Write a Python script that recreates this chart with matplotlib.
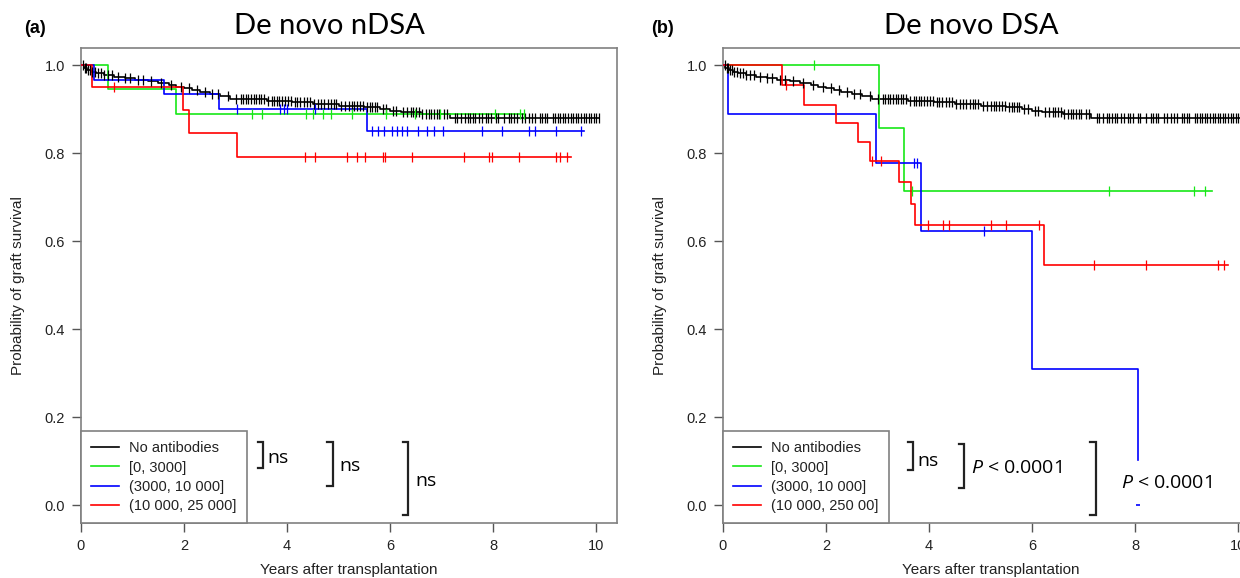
import numpy as np
import matplotlib.pyplot as plt
from matplotlib.lines import Line2D

plt.rcParams['mathtext.fontset'] = 'custom'
plt.rcParams['mathtext.it'] = 'Open Sans:italic'
plt.rcParams['mathtext.rm'] = 'Open Sans'

# ---- data (Kaplan-Meier: event times, survival after event, last time, censor times)
none_times = [0.05, 0.12, 0.2, 0.3, 0.45, 0.65, 0.85, 1.05, 1.3, 1.5, 1.7, 1.85, 2.0, 2.15,
              2.3, 2.5, 2.7, 2.9, 3.6, 4.1, 4.5, 5.0, 5.5, 5.8, 6.0, 6.2, 6.6, 7.15]
none_surv = [0.995, 0.99, 0.986, 0.982, 0.978, 0.974, 0.971, 0.968, 0.964, 0.96, 0.956, 0.952,
             0.948, 0.944, 0.94, 0.935, 0.93, 0.924, 0.92, 0.916, 0.912, 0.908, 0.905, 0.901,
             0.897, 0.894, 0.89, 0.881]
none_end = 10.05
none_cens = [0.04, 0.08, 0.1, 0.14, 0.18, 0.22, 0.28, 0.33, 0.38, 0.45, 0.52, 0.6, 0.72, 0.85,
             0.95, 1.1, 1.2, 1.35, 1.55, 1.75, 1.95, 2.1, 2.25, 2.4, 2.55, 2.65, 2.85, 3.0, 3.1,
             3.15, 3.2, 3.25, 3.3, 3.35, 3.4, 3.45, 3.5, 3.55, 3.62, 3.7, 3.75, 3.8, 3.85, 3.9,
             3.95, 4.02, 4.08, 4.15, 4.2, 4.25, 4.32, 4.38, 4.45, 4.52, 4.6, 4.66, 4.72, 4.8,
             4.85, 4.9, 4.95, 5.05, 5.12, 5.2, 5.25, 5.3, 5.35, 5.42, 5.48, 5.55, 5.6, 5.65,
             5.7, 5.75, 5.85, 5.92, 6.05, 6.12, 6.25, 6.32, 6.4, 6.45, 6.5, 6.55, 6.62, 6.7,
             6.75, 6.8, 6.85, 6.9, 6.95, 7.05, 7.1, 7.25, 7.3, 7.38, 7.45, 7.5, 7.55, 7.6, 7.65,
             7.72, 7.78, 7.85, 7.9, 7.95, 8.05, 8.1, 8.2, 8.3, 8.35, 8.4, 8.45, 8.55, 8.62, 8.7,
             8.75, 8.8, 8.9, 8.95, 9.0, 9.05, 9.15, 9.2, 9.25, 9.3, 9.35, 9.4, 9.45, 9.5, 9.55,
             9.6, 9.65, 9.7, 9.75, 9.8, 9.85, 9.9, 9.95, 10.0, 10.05]

# panel (a) de novo nDSA
green_a_times = [0.52, 1.84]
green_a_surv = [0.947, 0.889]
green_a_end = 8.6
green_a_cens = [3.31, 3.51, 4.36, 4.50, 4.69, 4.86, 5.25, 5.91, 6.49, 6.96, 8.04, 8.51, 8.59]

blue_a_times = [0.25, 1.61, 2.68, 5.54]
blue_a_surv = [0.968, 0.934, 0.9, 0.85]
blue_a_end = 9.76
blue_a_cens = [3.03, 3.86, 3.93, 4.0, 4.55, 5.64, 5.76, 5.87, 6.03, 6.14, 6.22, 6.32, 6.53,
               6.71, 6.84, 7.03, 7.79, 8.16, 8.70, 8.80, 9.21, 9.71]

red_a_times = [0.21, 1.98, 2.09, 3.03]
red_a_surv = [0.951, 0.898, 0.847, 0.792]
red_a_end = 9.5
red_a_cens = [0.64, 4.34, 4.55, 5.16, 5.35, 5.52, 5.85, 5.89, 6.43, 7.44, 7.91, 7.98, 8.49,
              9.21, 9.30, 9.42]

# panel (b) de novo DSA
green_b_times = [3.02, 3.52]
green_b_surv = [0.857, 0.714]
green_b_end = 9.48
green_b_cens = [1.76, 3.67, 7.5, 9.13, 9.36]

blue_b_times = [0.1, 2.97, 3.85, 6.0, 8.05]
blue_b_surv = [0.889, 0.778, 0.623, 0.311, 0.104]
blue_b_end = 8.05
blue_b_cens = [3.71, 3.77, 5.07]
blue_b_zero_time = 8.06

red_b_times = [1.14, 1.58, 2.19, 2.63, 2.86, 3.42, 3.64, 3.73, 6.23]
red_b_surv = [0.955, 0.911, 0.870, 0.826, 0.782, 0.734, 0.686, 0.637, 0.546]
red_b_end = 9.8
red_b_cens = [1.22, 2.90, 3.07, 3.97, 4.27, 4.39, 5.20, 5.49, 6.13, 7.2, 8.2, 9.61, 9.72]

labels_a = ['No antibodies', '[0, 3000]', '(3000, 10 000]', '(10 000, 25 000]']
labels_b = ['No antibodies', '[0, 3000]', '(3000, 10 000]', '(10 000, 250 00]']
colors = ['black', '#16e816', '#0000ff', '#ff0000']

# comparison brackets: x, y top, y bottom, label x, label y, text
brackets_a = [(3.53, 0.143, 0.084, 3.62, 0.107, 'ns'),
              (4.88, 0.143, 0.043, 5.02, 0.089, 'ns'),
              (6.34, 0.143, -0.023, 6.49, 0.055, 'ns')]
brackets_b = [(3.69, 0.143, 0.080, 3.77, 0.102, 'ns'),
              (4.68, 0.139, 0.039, 4.82, 0.086, 'P'),
              (7.23, 0.143, -0.023, 7.72, 0.052, 'P')]

TXT = ['Lato', 'DejaVu Sans']
NOTE = ['Open Sans', 'DejaVu Sans']
AX = ['Liberation Sans', 'DejaVu Sans']


def km(ax, times, surv, end, cens, color):
    t = np.concatenate([[0.0], times, [end]])
    s = np.concatenate([[1.0], surv, [surv[-1]]])
    ax.step(t, s, where='post', color=color, lw=1.2, zorder=3)
    idx = np.searchsorted(t[:-1], cens, side='right') - 1
    ax.plot(cens, s[idx], ls='none', marker='|', ms=7, mew=0.9, color=color, zorder=4)


def style(ax, labels, brackets):
    ax.set_xlim(0, 10.4)
    ax.set_ylim(-0.04, 1.04)
    ax.set_xticks(range(0, 11, 2))
    ax.set_yticks([0.0, 0.2, 0.4, 0.6, 0.8, 1.0])
    ax.set_yticklabels(['%.1f' % v for v in [0.0, 0.2, 0.4, 0.6, 0.8, 1.0]])
    for sp in ax.spines.values():
        sp.set_color('#808080')
        sp.set_linewidth(1.2)
    ax.tick_params(direction='out', length=6.5, width=1, color='#555555', pad=5,
                   labelsize=10.5, labelcolor='#222222')
    for lab in ax.get_xticklabels() + ax.get_yticklabels():
        lab.set_fontfamily(AX)
    ax.set_xlabel('Years after transplantation', fontsize=11, family=AX, color='#222222')
    ax.set_ylabel('Probability of graft survival', fontsize=11, family=AX, color='#222222')
    ax.xaxis.set_label_coords(0.5, -0.084)
    ax.yaxis.set_label_coords(-0.105, 0.5)
    handles = [Line2D([], [], color=c, lw=1.2) for c in colors]
    leg = ax.legend(handles, labels, loc='lower left', bbox_to_anchor=(0, 0), borderaxespad=0,
                    fancybox=False, edgecolor='#808080', framealpha=1,
                    prop={'family': AX, 'size': 10.5}, handlelength=1.9, handletextpad=0.7,
                    labelspacing=0.35, borderpad=0.7)
    leg.get_frame().set_linewidth(1.2)
    for t in leg.get_texts():
        t.set_color('#222222')
    w = 0.1
    for x, yt, yb, lx, ly, txt in brackets:
        ax.plot([x - w, x, x, x - w], [yt, yt, yb, yb], color='#222222', lw=1.6, clip_on=False,
                solid_joinstyle='miter')
        if txt == 'ns':
            ax.text(lx, ly, 'ns', fontsize=14, family=NOTE, va='center', ha='left')
        else:
            ax.text(lx, ly, r'$\it{P}$ < 0.0001', fontsize=14, family=NOTE, va='center', ha='left')


fig = plt.figure(figsize=(12.4, 5.78), dpi=100)
ax1 = fig.add_axes([0.0653, 0.0952, 0.4323, 0.822])
ax2 = fig.add_axes([0.583, 0.0952, 0.4323, 0.822])

km(ax1, none_times, none_surv, none_end, none_cens, colors[0])
km(ax1, green_a_times, green_a_surv, green_a_end, green_a_cens, colors[1])
km(ax1, blue_a_times, blue_a_surv, blue_a_end, blue_a_cens, colors[2])
km(ax1, red_a_times, red_a_surv, red_a_end, red_a_cens, colors[3])

km(ax2, none_times, none_surv, none_end, none_cens, colors[0])
km(ax2, green_b_times, green_b_surv, green_b_end, green_b_cens, colors[1])
km(ax2, blue_b_times, blue_b_surv, blue_b_end, blue_b_cens, colors[2])
km(ax2, red_b_times, red_b_surv, red_b_end, red_b_cens, colors[3])
ax2.plot([blue_b_zero_time], [0.0], ls='none', marker='_', ms=3, mew=1.2, color=colors[2])

style(ax1, labels_a, brackets_a)
style(ax2, labels_b, brackets_b)

fig.text(0.266, 0.955, 'De novo nDSA', fontsize=21, family=TXT, ha='center', va='center')
fig.text(0.783, 0.955, 'De novo DSA', fontsize=21, family=TXT, ha='center', va='center')
fig.text(0.028, 0.951, '(a)', fontsize=13, weight='bold', family=AX, ha='center', va='center')
fig.text(0.534, 0.951, '(b)', fontsize=13, weight='bold', family=AX, ha='center', va='center')

fig.savefig('out.png', dpi=100)
